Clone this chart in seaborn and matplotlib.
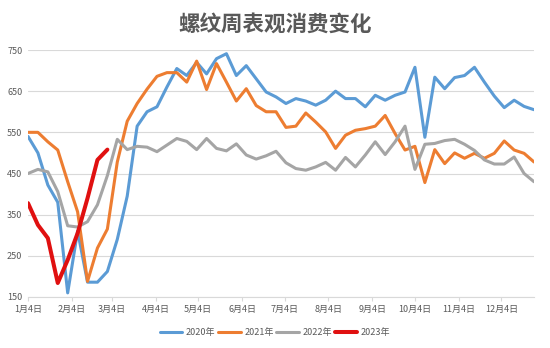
import numpy as np
import pandas as pd
import matplotlib
matplotlib.use("Agg")
import matplotlib.pyplot as plt
import seaborn as sns

# ---- data (weekly, week index 0 = Jan 4) ----
years = ["2020年", "2021年", "2022年", "2023年"]
s2020 = [540, 500, 422, 380, 160, 310, 186, 186, 212, 290, 395, 565, 600, 612, 660, 705,
         688, 720, 692, 729, 741, 688, 712, 680, 648, 636, 620, 632, 626, 616, 628, 650,
         632, 632, 612, 640, 628, 640, 648, 708, 538, 684, 656, 683, 688, 708, 672, 638,
         610, 628, 613, 605]
s2021 = [550, 550, 527, 507, 430, 357, 188, 269, 315, 478, 577, 620, 655, 686, 695, 695,
         672, 723, 654, 717, 672, 626, 656, 615, 600, 600, 562, 565, 597, 575, 551, 511,
         543, 555, 559, 565, 591, 547, 507, 516, 428, 508, 474, 500, 487, 499, 487, 499,
         529, 507, 499, 478]
s2022 = [450, 460, 454, 406, 323, 320, 333, 374, 445, 533, 508, 516, 514, 503, 519, 535,
         528, 508, 535, 511, 505, 522, 495, 485, 493, 504, 476, 462, 458, 466, 477, 458,
         489, 466, 495, 527, 496, 527, 565, 460, 521, 523, 530, 533, 521, 506, 483, 473,
         473, 490, 450, 430]
s2023 = [378, 325, 293, 184, 240, 305, 390, 483, 508]

tick_days = [0, 31, 59, 90, 120, 151, 181, 212, 243, 273, 304, 334]
tick_labels = ["1月4日", "2月4日", "3月4日", "4月4日", "5月4日", "6月4日",
               "7月4日", "8月4日", "9月4日", "10月4日", "11月4日", "12月4日"]
y_ticks = [150, 250, 350, 450, 550, 650, 750]
title = "螺纹周表观消费变化"

series = [s2020, s2021, s2022, s2023]
colors = ["#5B9BD5", "#ED7D31", "#A5A5A5", "#E01010"]
widths = [2.2, 2.2, 2.2, 2.9]

frames = []
for y, s in zip(years, series):
    frames.append(pd.DataFrame({"week": np.arange(len(s)), "value": s, "year": y}))
df = pd.concat(frames, ignore_index=True)

sns.set_theme(style="white")
plt.rcParams["font.family"] = ["Noto Sans CJK SC", "DejaVu Sans"]

fig = plt.figure(figsize=(5.5, 3.48), dpi=100)
fig.patch.set_facecolor("white")
ax = fig.add_axes([28 / 550, 1 - 297 / 348, (534 - 28) / 550, (297 - 50) / 348])

for y, c, w in zip(years, colors, widths):
    sub = df[df["year"] == y]
    sns.lineplot(data=sub, x="week", y="value", color=c, linewidth=w, label=y, ax=ax,
                 solid_joinstyle="round", solid_capstyle="round")

ax.set_xlim(0, 51)
ax.set_ylim(150, 750)
ax.set_yticks(y_ticks)
ax.set_yticklabels([str(v) for v in y_ticks])
ax.set_xticks([d / 7 for d in tick_days])
ax.set_xticklabels(tick_labels)
ax.set_xlabel("")
ax.set_ylabel("")

ax.grid(axis="y", color="#D9D9D9", linewidth=0.8)
ax.grid(axis="x", visible=False)
for sp in ["top", "right", "left"]:
    ax.spines[sp].set_visible(False)
ax.spines["bottom"].set_color("#D9D9D9")
ax.spines["bottom"].set_linewidth(0.8)

ax.tick_params(axis="y", length=0, pad=4, labelsize=6.5, labelcolor="#595959")
ax.tick_params(axis="x", length=3, width=0.8, color="#D9D9D9", pad=3,
               labelsize=6.5, labelcolor="#595959", bottom=True)

ax.get_legend().remove()
handles, labels = ax.get_legend_handles_labels()
fig.legend(handles, labels, loc="center", bbox_to_anchor=(0.5, 1 - 333 / 348), ncol=4,
           frameon=False, fontsize=6.5, handlelength=2.5, handletextpad=0.4,
           columnspacing=0.3, labelcolor="#595959")

fig.text(0.5, 1 - 24 / 348, title, ha="center", va="center", fontsize=15.5,
         fontweight="bold", color="#595959")

fig.savefig("out.png", dpi=100, facecolor="white")
